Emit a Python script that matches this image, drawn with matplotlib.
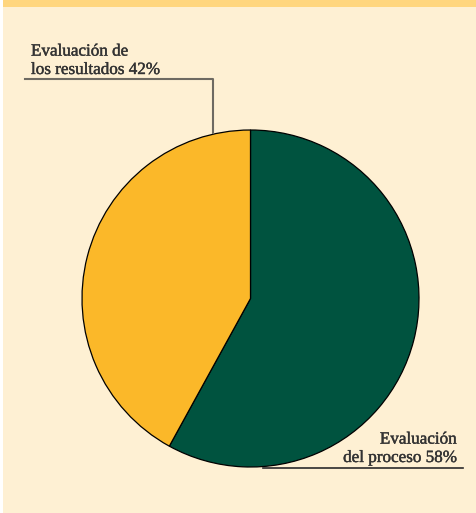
import matplotlib.pyplot as plt
import matplotlib.patheffects as pe
from matplotlib.patches import Rectangle

# Data
labels = ['Evaluación\ndel proceso 58%', 'Evaluación de\nlos resultados 42%']
values = [58, 42]
colors = ['#00533F', '#FBB829']

W, H = 477, 513
fig = plt.figure(figsize=(W / 100, H / 100), dpi=100, facecolor='white')
ax = fig.add_axes([0, 0, 1, 1])
ax.set_xlim(0, W)
ax.set_ylim(0, H)
ax.set_aspect('equal')
ax.axis('off')

# panel background + top band
ax.add_patch(Rectangle((3, 0), 473, H - 7, facecolor='#FEF0D3', edgecolor='none', zorder=0))
ax.add_patch(Rectangle((3, H - 7), 473, 7, facecolor='#FFD67E', edgecolor='none', zorder=0))

# Pie
ax.pie(values, colors=colors, startangle=90, counterclock=False,
       center=(250.5, H - 298.5), radius=168.5, frame=True,
       wedgeprops={'edgecolor': 'black', 'linewidth': 0.9})
ax.set_xlim(0, W)
ax.set_ylim(0, H)
ax.axis('off')

# Leader lines
ax.plot([25, 213, 213], [H - 79, H - 79, H - 133], color='#6e6a62', lw=1.5, zorder=3)
ax.plot([263, 463], [H - 468, H - 468], color='#2b2b2b', lw=1.2, zorder=3)

# Labels
bold = [pe.withStroke(linewidth=0.3, foreground='#333333')]
ax.text(31, H - 74, labels[1], ha='left', va='baseline', fontsize=12.3,
        family='Liberation Serif', color='#333333', linespacing=1.2, path_effects=bold)
ax.text(457, H - 462, labels[0], ha='right', va='baseline', fontsize=12.3,
        family='Liberation Serif', color='#333333', linespacing=1.2, path_effects=bold)

fig.savefig('out.png', dpi=100, facecolor='white')
